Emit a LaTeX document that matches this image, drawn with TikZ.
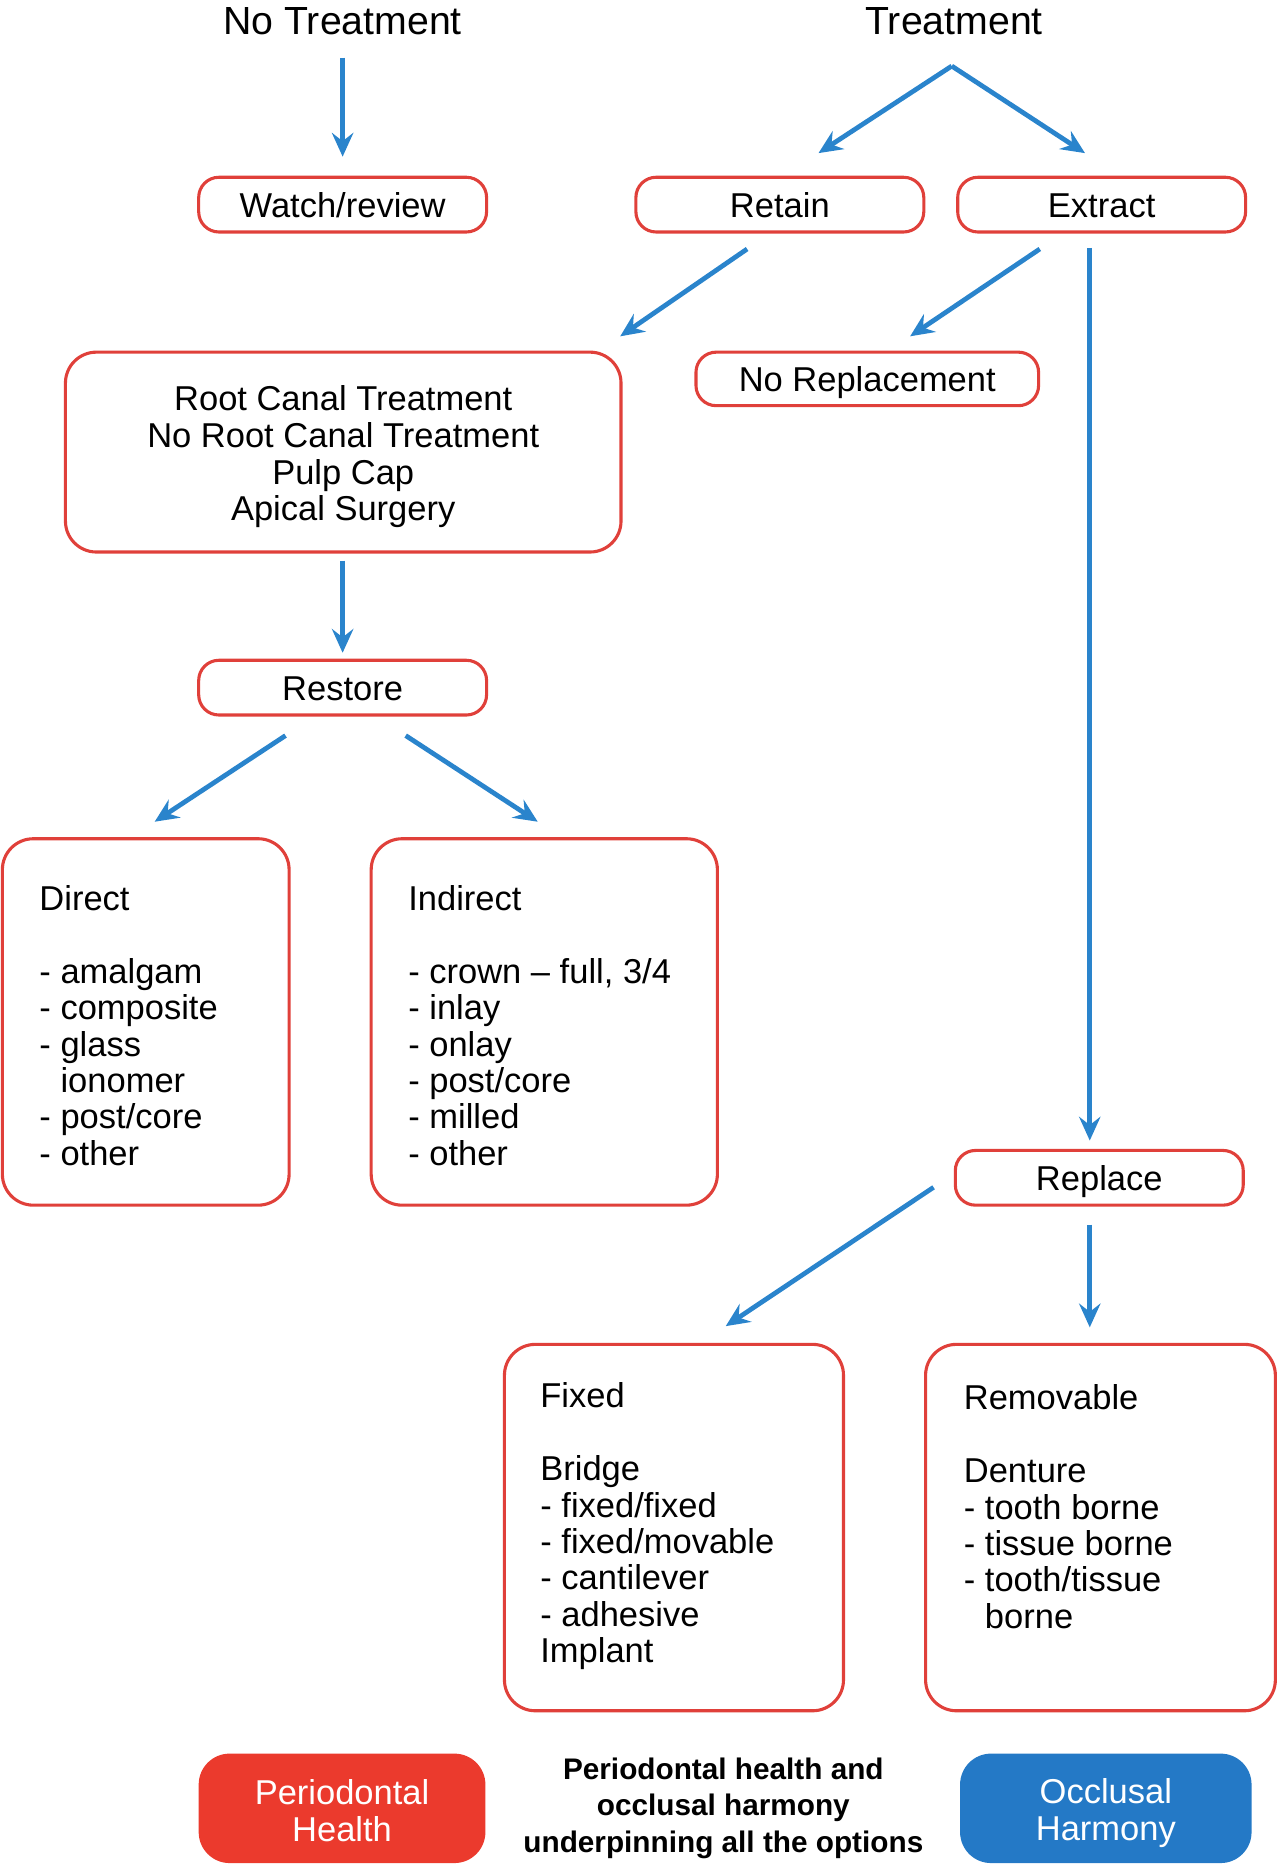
\documentclass[tikz,border=0pt]{standalone}
\usepackage{fontspec}
\setmainfont{Liberation Sans}
\usetikzlibrary{arrows.meta,calc}
\definecolor{boxred}{HTML}{E0403A}
\definecolor{arrblue}{HTML}{2A84CC}
\definecolor{phred}{HTML}{EB3A2D}
\definecolor{ohblue}{HTML}{2479C6}
\newcommand{\fsz}[2]{\fontsize{#1}{#2}\selectfont}
\begin{document}
\begin{tikzpicture}[x=1pt,y=-1pt,
  pill/.style={draw=boxred, line width=2.6pt, rounded corners=17pt, minimum width=242pt, minimum height=46pt, inner sep=0pt, text height=21pt, text depth=0pt, font=\fsz{29}{31}},
  bigbox/.style={draw=boxred, line width=2.6pt, rounded corners=26pt, inner sep=0pt},
  listtxt/.style={anchor=west, align=left, inner sep=0pt, font=\fsz{29}{30.6}},
  headtxt/.style={anchor=base, inner sep=0pt, font=\fsz{33}{35}},
  solid box/.style={rounded corners=26pt, inner sep=0pt, minimum height=92pt},
  solidtxt/.style={inner sep=0pt, text=white, align=center, text depth=0pt, font=\fsz{29}{31}},
  arr/.style={draw=arrblue, line width=4pt, -{Stealth[length=20pt,width=18pt,inset=7pt]}}
]
\useasboundingbox (0,0) rectangle (1077,1571);

% headings
\node[headtxt] (nt) at (288,29) {No Treatment};
\node[headtxt] (tr) at (802,29) {Treatment};
\coordinate (tapex) at ($(tr.south)+(-2,26)$);

% small boxes
\node[pill] (watch) at (288,172) {Watch/review};
\node[pill] (retain) at (655.5,172) {Retain};
\node[pill] (extract) at (926,172) {Extract};
\node[pill, minimum width=288pt, minimum height=45pt] (norep) at (729,318.5) {No Replacement};
\node[pill] (restore) at (288,578) {Restore};
\node[pill] (replace) at (924,990) {Replace};

% root canal box
\node[bigbox, minimum width=467pt, minimum height=168pt] (rct) at (288.5,380) {};
\node[inner sep=0pt, align=center, font=\fsz{29}{30.7}] (rcttxt) at (288.5,384)
  {Root Canal Treatment\\No Root Canal Treatment\\Pulp Cap\\Apical Surgery};

% direct / indirect
\node[bigbox, minimum width=241pt, minimum height=308pt] (direct) at (122.5,859) {};
\node[listtxt] (directtxt) at (33,862) {Direct\\[30.6pt]- amalgam\\- composite\\- glass\\\hphantom{- }ionomer\\- post/core\\- other};
\node[bigbox, minimum width=291pt, minimum height=308pt] (indirect) at (457.5,859) {};
\node[listtxt] (indirecttxt) at (343,862) {Indirect\\[30.6pt]- crown -- full, 3/4\\- inlay\\- onlay\\- post/core\\- milled\\- other};

% fixed / removable
\node[bigbox, minimum width=285pt, minimum height=308pt] (fixed) at (566.5,1284) {};
\node[listtxt] (fixedtxt) at (454,1283) {Fixed\\[30.6pt]Bridge\\- fixed/fixed\\- fixed/movable\\- cantilever\\- adhesive\\Implant};
\node[bigbox, minimum width=294pt, minimum height=308pt] (remov) at (925,1284) {};
\node[listtxt] (removtxt) at (810,1266.5) {Removable\\[30.6pt]Denture\\- tooth borne\\- tissue borne\\- tooth/tissue\\\hphantom{- }borne};

% bottom
\node[solid box, fill=phred, minimum width=241pt] (ph) at (287.5,1520) {};
\node[solidtxt] (phtxt) at (287.5,1522) {Periodontal\\Health};
\node[solid box, fill=ohblue, minimum width=245pt] (oh) at (929.5,1520) {};
\node[solidtxt] (ohtxt) at (929.5,1521) {Occlusal\\Harmony};
\node[inner sep=0pt, align=center, font=\fsz{25}{30.5}\bfseries] (under) at (608,1520) {Periodontal health and\\occlusal harmony\\underpinning all the options};

% connectors
\draw[arr] ($(nt.south)+(0,19)$) -- ($(watch.north)+(0,-16)$);
\draw[arr] (tapex) -- ($(retain.north)+(32.5,-19)$);
\draw[arr] (tapex) -- ($(extract.north)+(-14,-19)$);
\draw[arr] ($(retain.south)+(-27.5,13)$) -- ($(rct.north east)+(-2,-12)$);
\draw[arr] ($(extract.south)+(-52,13)$) -- ($(norep.north)+(36,-12)$);
\draw[arr] ($(extract.south)+(-10,12)$) -- ($(replace.north)+(-8,-7)$);
\draw[arr] ($(rct.south)+(-0.5,6)$) -- ($(restore.north)+(0,-5)$);
\draw[arr] ($(restore.south)+(-48,16)$) -- ($(direct.north)+(7.5,-13)$);
\draw[arr] ($(restore.south)+(53,16)$) -- ($(indirect.north)+(-5.5,-13)$);
\draw[arr] ($(replace.west)+(-17,8)$) -- ($(fixed.north)+(43.5,-14)$);
\draw[arr] ($(replace.south)+(-8,15)$) -- ($(remov.north)+(-9,-13)$);
\end{tikzpicture}
\end{document}
